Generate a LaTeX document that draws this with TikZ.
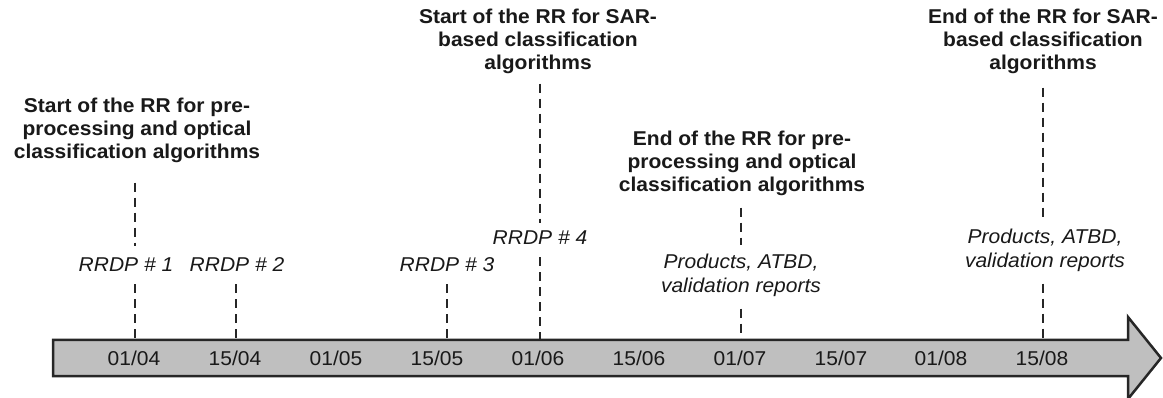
\documentclass[tikz,border=0pt]{standalone}
\usepackage{fontspec}
\setmainfont{Liberation Sans}[FakeStretch=1.05]
\begin{document}
\begin{tikzpicture}[x=1pt,y=-1pt,
  title/.style={font=\fontsize{20}{23}\selectfont\bfseries, align=center, inner sep=0pt, text=black!90},
  lbl/.style={font=\fontsize{20}{24}\selectfont\itshape, align=center, inner sep=0pt, text=black!90},
  date/.style={font=\fontsize{20}{24}\selectfont, inner sep=0pt, text=black!90},
  dashline/.style={draw=black!85, line width=2.7pt, dash pattern=on 9pt off 6pt},
  bar/.style={fill=black!25, draw=black!85, line width=2.5pt, line join=miter}]
\useasboundingbox (0,0) rectangle (1163,398);
% timeline arrow
\draw[bar] (53,340) -- (1128,340) -- (1128,317) -- (1161,358) -- (1128,399) -- (1128,376) -- (53,376) -- cycle;
% tick coordinates on the top edge of the bar
\coordinate (tk1) at (135,340);
\coordinate (tk2) at (236,340);
\coordinate (tk3) at (447,340);
\coordinate (tk4) at (540,340);
\coordinate (tk5) at (741,340);
\coordinate (tk6) at (1043,340);
% dates
\foreach \d/\x in {{01/04}/134,{15/04}/235,{01/05}/336,{15/05}/437,{01/06}/538,{15/06}/639,{01/07}/740,{15/07}/841,{01/08}/941,{15/08}/1042}{
  \node[date] (d\x) at (\x,358) {\d};
}
% titles
\node[title] (T1) at (137,130) {Start of the RR for pre-\\processing and optical\\classification algorithms};
\node[title] (T2) at (538,41) {Start of the RR for SAR-\\based classification\\algorithms};
\node[title] (T3) at (742,163) {End of the RR for pre-\\processing and optical\\classification algorithms};
\node[title] (T4) at (1043,41) {End of the RR for SAR-\\based classification\\algorithms};
% italic labels
\node[lbl] (R1) at (126,265) {RRDP \# 1};
\node[lbl] (R2) at (237,265) {RRDP \# 2};
\node[lbl] (R3) at (447,265) {RRDP \# 3};
\node[lbl] (R4) at (540,238) {RRDP \# 4};
\node[lbl] (P1) at (741,275) {Products, ATBD,\\validation reports};
\node[lbl] (P2) at (1045,250) {Products, ATBD,\\validation reports};
% dashed connectors
\draw[dashline] ([yshift=-20pt]T1.south -| tk1) -- ([yshift=12pt]R1.north -| tk1);
\draw[dashline] ([yshift=-12pt]R1.south -| tk1) -- (tk1);
\draw[dashline] ([yshift=-12pt]R2.south -| tk2) -- (tk2);
\draw[dashline] ([yshift=-12pt]R3.south -| tk3) -- (tk3);
\draw[dashline] ([yshift=-10pt]T2.south -| tk4) -- ([yshift=8pt]R4.north -| tk4);
\draw[dashline] ([yshift=-12pt]R4.south -| tk4) -- (tk4);
\draw[dashline] ([yshift=-12pt]T3.south -| tk5) -- ([yshift=8pt]P1.north -| tk5);
\draw[dashline] ([yshift=-12pt]P1.south -| tk5) -- (tk5);
\draw[dashline] ([yshift=-14pt]T4.south -| tk6) -- ([yshift=8pt]P2.north -| tk6);
\draw[dashline] ([yshift=-12pt]P2.south -| tk6) -- (tk6);
\end{tikzpicture}
\end{document}
